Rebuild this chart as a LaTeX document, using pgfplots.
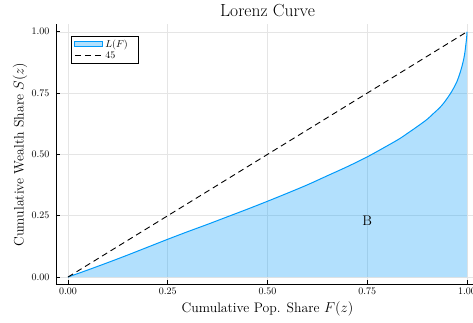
\documentclass[border=0pt]{standalone}
\usepackage{pgfplots}
\pgfplotsset{compat=1.18}
\usetikzlibrary{calc}
\definecolor{jblue}{RGB}{0,154,250}
\pgfplotstableread{
F S
0 0
0.05 0.029
0.1 0.059
0.15 0.090
0.2 0.122
0.25 0.154
0.3 0.185
0.35 0.215
0.4 0.246
0.45 0.277
0.5 0.309
0.55 0.342
0.6 0.376
0.65 0.413
0.7 0.450
0.75 0.490
0.8 0.535
0.832 0.565
0.85 0.585
0.874 0.612
0.9 0.643
0.916 0.667
0.93 0.688
0.941 0.708
0.95 0.728
0.958 0.747
0.966 0.769
0.975 0.798
0.982 0.830
0.987 0.857
0.992 0.891
0.995 0.920
0.997 0.947
0.999 0.975
1 1
}\lorenz
\begin{document}
\begin{tikzpicture}
\begin{axis}[
  scale only axis, width=423pt, height=260pt,
  xmin=-0.03, xmax=1.03, ymin=-0.03, ymax=1.03,
  axis x line*=bottom, axis y line*=left,
  axis line style={line width=0.8pt, black},
  tick align=inside, major tick length=4pt,
  tick style={black, line width=0.6pt},
  xtick={0,0.25,0.5,0.75,1}, ytick={0,0.25,0.5,0.75,1},
  xticklabels={0.00,0.25,0.50,0.75,1.00},
  yticklabels={0.00,0.25,0.50,0.75,1.00},
  grid=major, grid style={black!10, line width=0.5pt},
  title={Lorenz Curve},
  title style={font=\fontsize{17.5}{20}\selectfont, at={(axis description cs:0.5,1)}, anchor=base, yshift=1.4pt},
  xlabel={Cumulative Pop. Share $F(z)$},
  ylabel={Cumulative Wealth Share $S(z)$},
  label style={font=\fontsize{13.75}{16}\selectfont},
  xlabel style={at={(axis description cs:0.5,0)}, anchor=base, yshift=-27.6pt},
  ylabel style={at={(axis description cs:-0.0768,0.5)}, anchor=base},
  tick label style={font=\fontsize{10}{12}\selectfont},
  yticklabel style={xshift=-3pt},
  legend style={at={(axis description cs:0.0355,0.9565)}, anchor=north west,
    draw=black, line width=0.8pt, font=\fontsize{10}{12}\selectfont,
    inner xsep=3pt, inner ysep=1.5pt, row sep=-1pt},
  legend cell align=left,
]
\coordinate (O) at (rel axis cs:0,0);
\addplot[draw=none, fill=jblue, fill opacity=0.3, forget plot] table[x=F,y=S] {\lorenz} \closedcycle;
\addplot[jblue, line width=1pt, smooth,
  legend image code/.code={
    \fill[jblue, fill opacity=0.3] (0pt,-2.5pt) rectangle (28pt,2.5pt);
    \draw[jblue, line width=1pt] (0pt,2.5pt) -- (28pt,2.5pt);}] table[x=F,y=S] {\lorenz};
\addlegendentry{$L(F)$\hspace*{6pt}}
\addplot[black, line width=0.9pt, dash pattern=on 6pt off 4pt,
  legend image code/.code={\draw[black, line width=0.9pt, dash pattern=on 6pt off 4pt] (0pt,0pt) -- (28pt,0pt);}] coordinates {(0,0) (1,1)};
\addlegendentry{45}
\node[font=\fontsize{14}{16}\selectfont] at (axis cs:0.75,0.23) {B};
\end{axis}
\pgfresetboundingbox
\path[use as bounding box] ($(O)+(-56pt,-37.6pt)$) rectangle ($(O)+(417pt,284.4pt)$);
\end{tikzpicture}
\end{document}
